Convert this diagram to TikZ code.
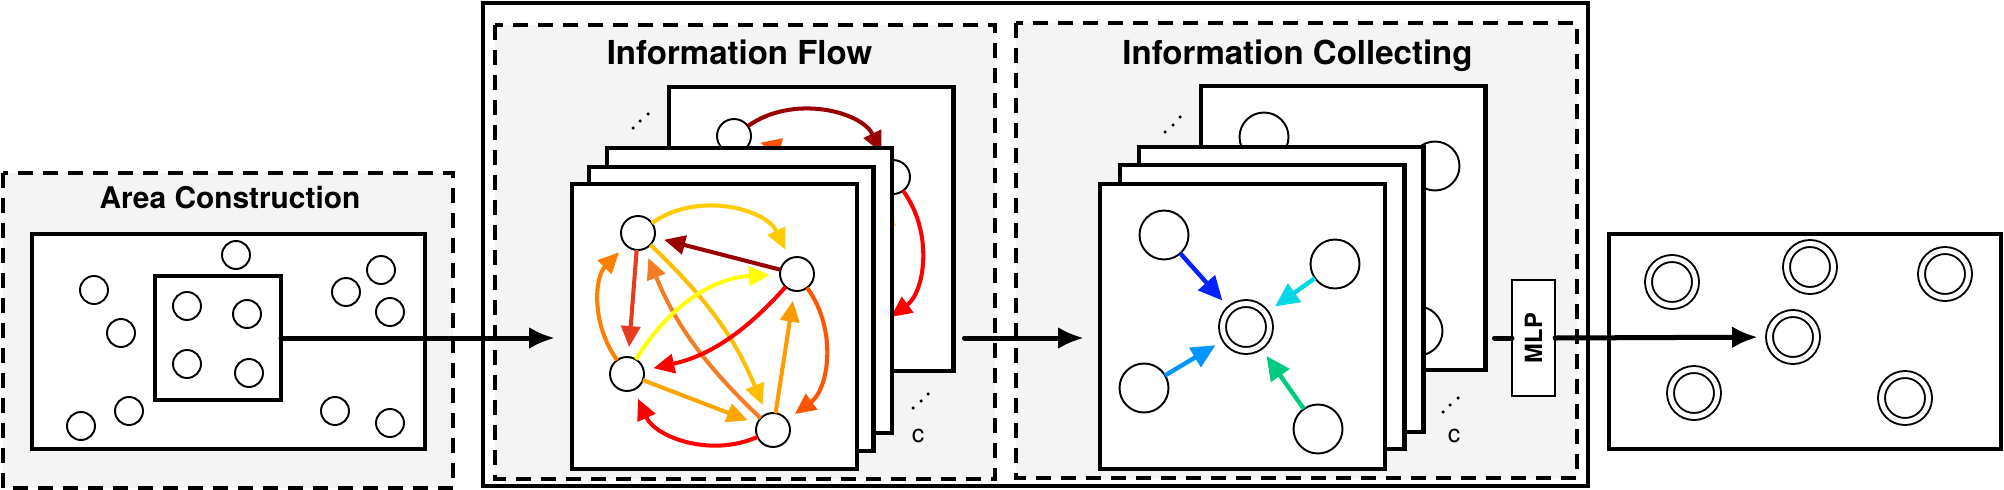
\documentclass[tikz,border=0pt]{standalone}
\usepackage{fontspec}
\usepackage{graphicx}
\setmainfont{TeX Gyre Heros}
\usetikzlibrary{arrows.meta,positioning}

\definecolor{boxgray}{HTML}{F4F4F4}
\definecolor{fdarkred}{HTML}{990000}
\definecolor{fgold}{HTML}{FFCC00}
\definecolor{famber}{HTML}{FFBF00}
\definecolor{fredorange}{HTML}{E83A1E}
\definecolor{forangeA}{HTML}{FF7F00}
\definecolor{forangeB}{HTML}{F47C24}
\definecolor{forangeC}{HTML}{FFA500}
\definecolor{forangeD}{HTML}{FF9A00}
\definecolor{fvermil}{HTML}{FF5500}
\definecolor{fyellow}{HTML}{FFFF00}
\definecolor{fred}{HTML}{FF0000}
\definecolor{cdeepblue}{HTML}{0022FF}
\definecolor{cskyblue}{HTML}{0096FF}
\definecolor{ccyan}{HTML}{00D8E8}
\definecolor{cmint}{HTML}{00CC80}

\begin{document}
\begin{tikzpicture}[x=0.02cm, y=0.02cm,
  main node/.style={circle,draw,fill=white,line width=1.1pt,minimum size=0.68cm,inner sep=0pt,outer sep=0pt},
  area node/.style={main node,minimum size=0.56cm},
  agent node/.style={main node,minimum size=0.98cm},
  out node/.style={main node,double,double distance=0.1cm,minimum size=0.94cm},
  panelbox/.style={draw,fill=white,line width=2.3pt,minimum size=5.7cm,inner sep=0pt,outer sep=0pt},
  stagebox/.style={draw,fill=boxgray,line width=2.3pt,dash pattern=on 0.3cm off 0.2cm},
  flowedge/.style={line width=2.3pt,-{Triangle[length=0.42cm,width=0.38cm]},shorten >=0.2cm},
  collectedge/.style={line width=2.5pt,-{Triangle[length=0.48cm,width=0.44cm]},shorten >=0.24cm},
  bigarrow/.style={line width=2.85pt,line cap=round,-{Latex[length=0.52cm,width=0.44cm]}},
  titletext/.style={anchor=base,font=\bfseries\fontsize{18.8}{22}\selectfont},
  ctext/.style={anchor=base,font=\fontsize{14.2}{16}\selectfont}]
\useasboundingbox (0,0) rectangle (2004,-490);

% stages
\draw[stagebox] (3,-173) rectangle (453,-488);
\draw[line width=2.3pt,fill=white] (483,-3) rectangle (1588,-486);
\draw[stagebox] (495,-25) rectangle (995,-479);
\draw[stagebox] (1016,-23) rectangle (1577,-478);
\node[titletext,font=\bfseries\fontsize{17}{20}\selectfont] (t1) at (230,-208) {Area Construction};
\node[titletext] (t2) at (739.5,-64) {Information Flow};
\node[titletext] (t3) at (1297.5,-64) {Information Collecting};

% area construction
\draw[line width=2.3pt,fill=white] (32,-234) rectangle (425,-449);
\node[panelbox,minimum width=2.52cm,minimum height=2.48cm] (sq) at (218,-338) {};
\foreach \x/\y [count=\i] in {236/255,94/290,121/333,187/306,247/314,187/364,249/373,
    346/292,381/270,390/312,129/411,81/426,335/411,390/423}
  \node[area node] (a\i) at (\x,-\y) {};

% information flow, back panel
\node[panelbox] (fb) at (811,-229) {};
\node[main node] (bA) at (734,-136) {};
\node[main node] (bB) at (893,-177) {};
\node[main node] (bD) at (869,-333) {};
\draw[flowedge,fdarkred] (bA) to[bend left=50] (bB);
\draw[flowedge,fred] (bB) to[bend left=45] (bD);
\draw[flowedge,fvermil] (bB) -- (bA);
\draw[flowedge,fgold] (bD) -- (bB);
\node[panelbox] (f3) at (749.5,-290.5) {};
\node[panelbox] (f2) at (731,-309) {};
\node[panelbox] (ff) at (714.5,-326.5) {};

% information flow, front panel
\node[main node] (A) at (638,-233) {};
\node[main node] (B) at (797,-274) {};
\node[main node] (C) at (627,-374) {};
\node[main node] (D) at (773,-430) {};
\draw[flowedge,fgold] (A) to[bend left=50] (B);
\draw[flowedge,fdarkred] (B) -- (A);
\draw[flowedge,fredorange] (A) -- (C);
\draw[flowedge,forangeA] (C) to[bend left=40] (A);
\draw[flowedge,forangeB] (D) to[bend left=12] (A);
\draw[flowedge,famber] (A) to[bend left=12] (D);
\draw[flowedge,fyellow] (C) to[bend left=28] (B);
\draw[flowedge,fred] (B) to[bend left=18] (C);
\draw[flowedge,forangeC] (C) -- (D);
\draw[flowedge,fred] (D) to[bend left=45] (C);
\draw[flowedge,forangeD] (D) -- (B);
\draw[flowedge,fvermil] (B) to[bend left=45] (D);
\foreach \x/\y in {633/128,640/121,648/114,913/408,921/401,928/394}
  \fill (\x,-\y) circle (1pt);
\node[ctext] (fc) at (918,-442) {c};

% information collecting, back panel
\node[panelbox] (cb) at (1343,-228) {};
\node[agent node] (btl) at (1264,-137) {};
\node[agent node] (btr) at (1435,-166) {};
\node[agent node] (bbr) at (1418,-331) {};
\node[panelbox] (c3) at (1281,-289.5) {};
\node[panelbox] (c2) at (1262,-307) {};
\node[panelbox] (cf) at (1242.5,-326.5) {};

% information collecting, front panel
\node[agent node] (tl) at (1164,-235) {};
\node[agent node] (tr) at (1335,-264) {};
\node[agent node] (bl) at (1144,-388) {};
\node[agent node] (br) at (1318,-429) {};
\node[out node] (ctr) at (1246,-327) {};
\draw[collectedge,cdeepblue] (tl) -- (ctr);
\draw[collectedge,ccyan] (tr) -- (ctr);
\draw[collectedge,cskyblue] (bl) -- (ctr);
\draw[collectedge,cmint] (br) -- (ctr);
\foreach \x/\y in {1165/132,1173/125,1180/117,1443/412,1450/405,1458/398}
  \fill (\x,-\y) circle (1pt);
\node[ctext] (cc) at (1454,-442) {c};

% output
\draw[line width=2.3pt] (1609,-234) rectangle (2001,-449);
\foreach \x/\y [count=\i] in {1672/282,1810/267,1945/274,1793/337,1694/393,1905/398}
  \node[out node] (o\i) at (\x,-\y) {};
\node[draw,fill=white,line width=1.1pt,minimum width=0.86cm,minimum height=2.32cm,inner sep=0pt,outer sep=0pt,
  font=\bfseries\fontsize{13.5}{14}\selectfont] (mlp) at (1533.5,-338) {\rotatebox{90}{MLP}};

% connectors between stages
\draw[bigarrow,shorten >=0.34cm] (sq.east) -- (sq.east -| ff.west);
\draw[bigarrow,shorten <=0.22cm,shorten >=0.32cm] (fb.east |- sq.east) -- (sq.east -| cf.west);
\draw[line width=2.85pt,line cap=round,shorten <=0.18cm] (cb.east |- mlp.west) -- (mlp.west);
\draw[bigarrow,shorten >=0.23cm] (mlp.east) -- (o4);
\end{tikzpicture}
\end{document}
